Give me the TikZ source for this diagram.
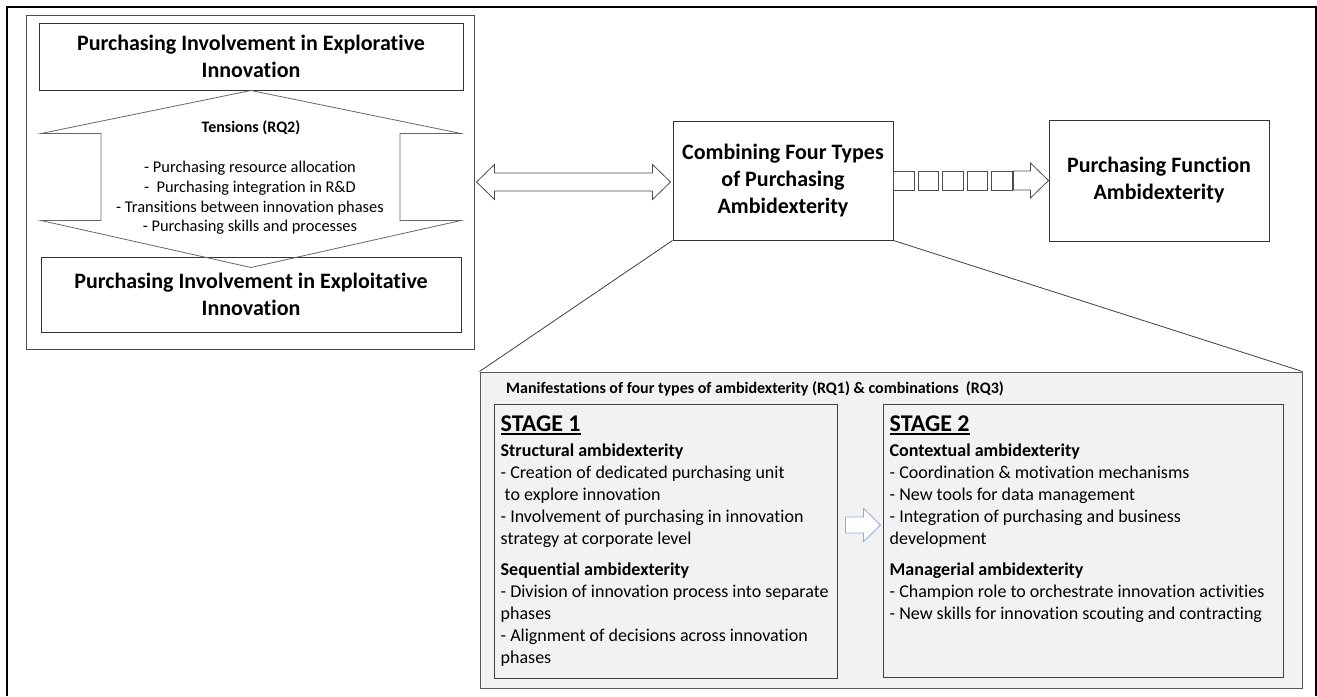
\documentclass[tikz,border=0pt]{standalone}
\usepackage{fontspec}
\setmainfont{Carlito}[Ligatures=NoCommon]
\newcommand{\stageline}[1]{\vtop{\hbox{#1}\kern1.5pt\hrule height 1.6pt}}
\usetikzlibrary{positioning,calc}

\begin{document}
\begin{tikzpicture}[x=1pt, y=-1pt,
        titlenode/.style={rectangle, draw=black!80, fill=white, line width=1pt, align=center, font=\fontsize{22}{27}\selectfont\bfseries},
        groupnode/.style={rectangle, draw=black!70, line width=1pt},
        manifnode/.style={rectangle, draw=black!65, fill=black!5, line width=1pt},
        stagenode/.style={rectangle, draw=black!75, fill=black!5, line width=1pt},
        blockarrow/.style={draw=black!70, line width=0.8pt, fill=white, line join=miter},
        stagearrow/.style={draw={rgb,255:red,143;green,170;blue,220}, line width=0.8pt, fill=white, line join=miter},
        stagehead/.style={inner sep=0pt, font=\fontsize{24}{27}\selectfont\bfseries},
        bodytext/.style={inner sep=0pt, align=left, font=\fontsize{18}{22}\selectfont},
        ]
        \useasboundingbox (0,0) rectangle (1317,696);
        %Frame
        \draw[line width=1.5pt] (7,696) -- (7,7) -- (1316,7) -- (1316,696);

        %Left group
        \node[groupnode, minimum width=448pt, minimum height=334pt] (groupbox) at (250,182) {};
        \node[titlenode, minimum width=424pt, minimum height=67pt] (explore) at (251,56.5) {Purchasing Involvement in Explorative\\Innovation};
        \node[titlenode, minimum width=420pt, minimum height=75pt] (exploit) [below=166pt of explore] {Purchasing Involvement in Exploitative\\Innovation};
        \coordinate (tensbot) at ($(exploit.north)+(0,11)$);
        \draw[blockarrow, fill=none, draw=black!60] (explore.south) -- ++(210,43) -- ++(-61,0) -- ++(0,87) -- ++(61,0) -- (tensbot)
            -- ++(-210,-47) -- ++(60,0) -- ++(0,-87) -- ++(-60,0) -- cycle;
        \node[font=\fontsize{16}{19}\selectfont\bfseries] (tensions) at (251,128) {Tensions (RQ2)};
        \node[font=\fontsize{16.4}{19.7}\selectfont, align=center] (tenslist) at (250,198) {- Purchasing resource allocation\\-\ \ Purchasing integration in R\&D\\- Transitions between innovation phases\\- Purchasing skills and processes};

        %Middle and right
        \node[titlenode, minimum width=220pt, minimum height=119pt] (combine) at (783,180.5) {Combining Four Types\\of Purchasing\\Ambidexterity};
        \node[titlenode, minimum width=220pt, minimum height=121pt] (function) [right=155pt of combine] {Purchasing Function\\Ambidexterity};

        \coordinate (hl) at ($(groupbox.east)+(2,0)$);
        \coordinate (hr) at ($(hl -| combine.west)+(-2,0)$);
        \draw[blockarrow] (hl) -- ++(18,-17.5) -- ++(0,8.5) -- ($(hr)+(-18,-9)$) -- ++(0,-8.5) -- (hr)
            -- ++(-18,17.5) -- ++(0,-8.5) -- ($(hl)+(18,9)$) -- ++(0,8.5) -- cycle;

        \foreach \i in {0,...,4}
            \draw[blockarrow] ($(combine.east)+(\i*24.5,-9.5)$) rectangle ++(20.5,19);
        \draw[blockarrow] ($(function.west)+(-35,-9.5)$) -- ++(17,0) -- ++(0,-8) -- (function.west) -- ++(-18,17.5) -- ++(0,-8) -- ++(-17,0) -- cycle;

        %Manifestations
        \node[manifnode, minimum width=822pt, minimum height=316pt] (manif) at (891,530) {};
        \draw[draw=black!75, line width=0.8pt] (combine.south west) -- (manif.north west);
        \draw[draw=black!75, line width=0.8pt] (combine.south east) -- (manif.north east);
        \node[font=\fontsize{16}{19}\selectfont\bfseries, anchor=west, inner sep=0pt] (maniftitle) at (506,389) {Manifestations of four types of ambidexterity (RQ1) \& combinations\ \ (RQ3)};

        \node[stagenode, minimum width=343pt, minimum height=274pt] (stage1) at (665.5,541) {};
        \node[stagenode, minimum width=400pt, minimum height=273pt] (stage2) at (1083,540.5) {};

        \node[stagehead, anchor=north west] (s1head) at ($(stage1.north west)+(7,12)$) {\stageline{STAGE 1}};
        \node[bodytext, anchor=north west] (s1body) at ($(stage1.north west)+(7,40)$) {\textbf{Structural ambidexterity}\\
            - Creation of dedicated purchasing unit\\
            \hspace{4pt}to explore innovation\\
            - Involvement of purchasing in innovation\\
            strategy at corporate level\\[9pt]
            \textbf{Sequential ambidexterity}\\
            - Division of innovation process into separate\\
            phases\\
            - Alignment of decisions across innovation\\
            phases};

        \node[stagehead, anchor=north west] (s2head) at ($(stage2.north west)+(7,12)$) {\stageline{STAGE 2}};
        \node[bodytext, anchor=north west] (s2body) at ($(stage2.north west)+(7,40)$) {\textbf{Contextual ambidexterity}\\
            - Coordination \& motivation mechanisms\\
            - New tools for data management\\
            - Integration of purchasing and business\\
            development\\[9pt]
            \textbf{Managerial ambidexterity}\\
            - Champion role to orchestrate innovation activities\\
            - New skills for innovation scouting and contracting};

        \coordinate (sa) at ($(stage1.east)+(8,-16)$);
        \draw[stagearrow] (sa) -- ++(0,-8) -- ++(18,0) -- ++(0,-8.5) -- ++(17,16.5) -- ++(-17,16.5) -- ++(0,-8.5) -- ++(-18,0) -- cycle;
    \end{tikzpicture}
\end{document}
